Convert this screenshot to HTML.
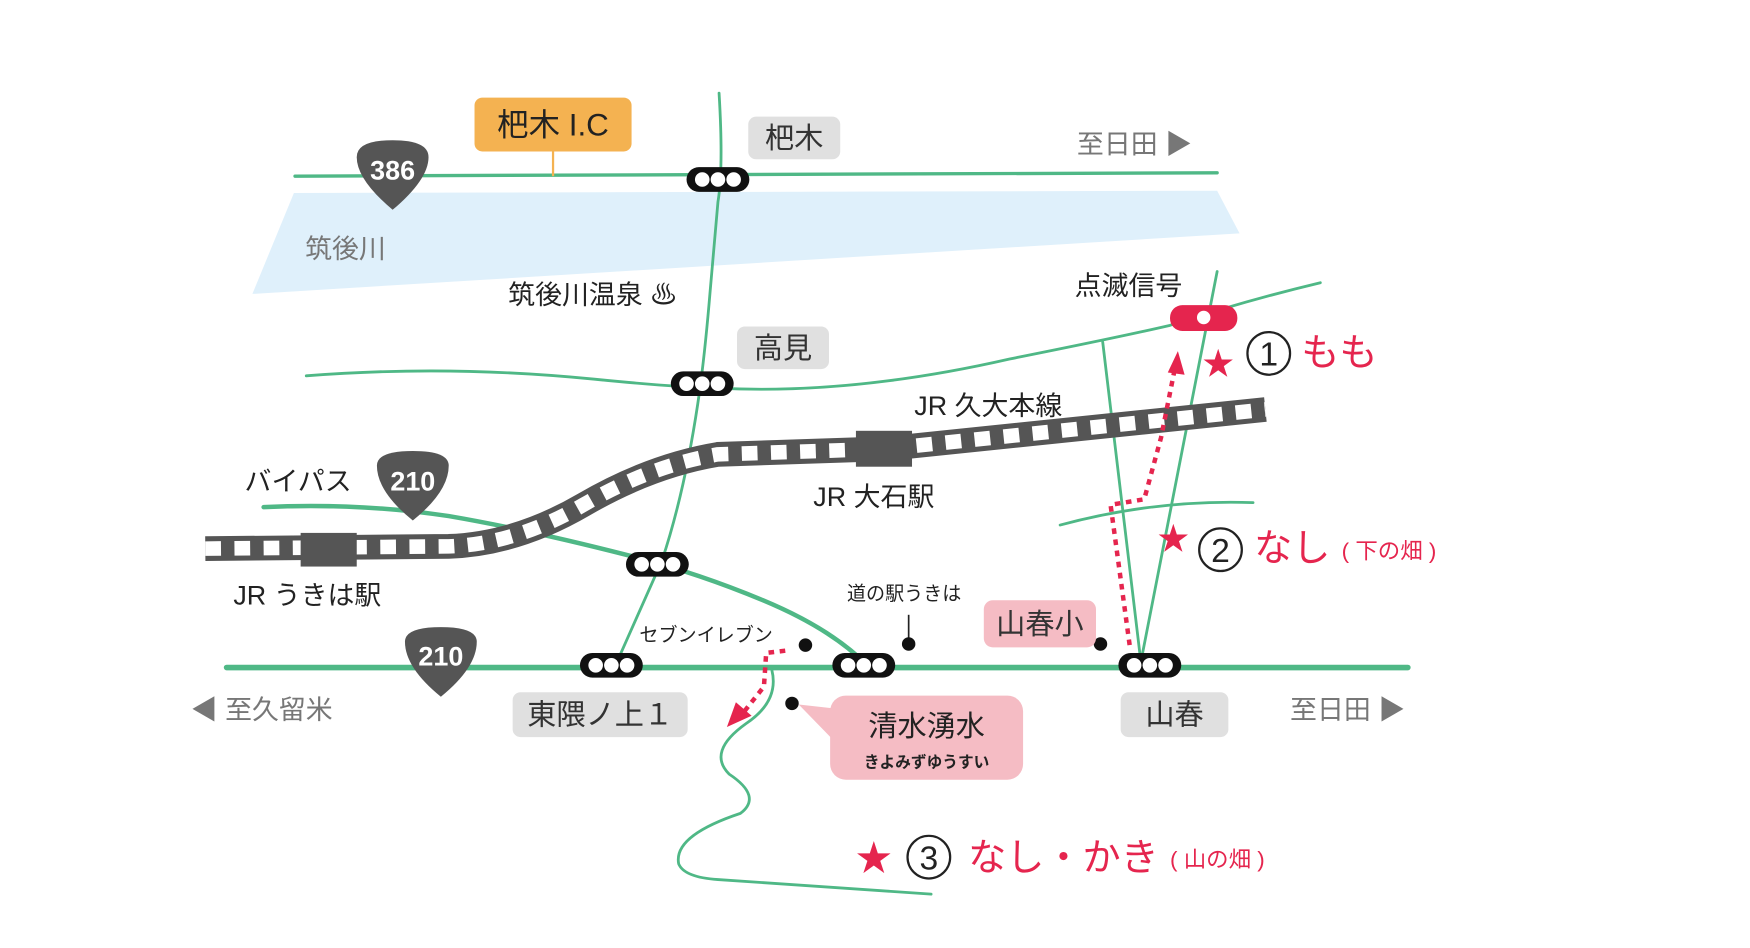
<!DOCTYPE html>
<html><head><meta charset="utf-8"><style>
html,body{margin:0;padding:0;background:#fff;}
svg{display:block;}
text{font-family:"Liberation Sans","Noto Sans CJK JP",sans-serif;}
</style></head><body>
<svg width="1750" height="948" viewBox="0 0 1560 845" preserveAspectRatio="none" xmlns="http://www.w3.org/2000/svg">
<g fill="none" stroke="#4fb886" stroke-linecap="round">
<polygon points="262,172 1085,170 1105,208 225,262" fill="#dff0fb" stroke="none"/>
<line x1="263" y1="157" x2="1085" y2="154" stroke-width="3"/>
<path d="M641,83 Q645,150 640,180 L633,260 Q628,320 622,360 Q610,440 590,500 L550,590" stroke-width="2.5"/>
<path d="M273,335 Q400,325 530,338 Q600,345 640,346 Q760,352 900,320 Q1000,300 1043,290 Q1110,268 1177,252" stroke-width="2.5"/>
<line x1="1085" y1="242" x2="1017" y2="590" stroke-width="2.5"/>
<line x1="983" y1="305" x2="1017" y2="590" stroke-width="2.5"/>
<path d="M945,468 Q1030,445 1117,448" stroke-width="2.5"/>
<path d="M235,452 Q320,448 400,460 Q470,472 560,495 Q620,510 680,535 Q740,560 772,592" stroke-width="4"/>
<line x1="202" y1="595" x2="1255" y2="595" stroke-width="5"/>
<path d="M688,597 Q695,625 665,645 Q630,670 650,690 Q680,710 660,725 Q600,745 605,770 Q610,782 640,784 L830,797" stroke-width="2.5"/>
</g>
<path d="M183,489 L400,487 Q460,485 520,450 Q580,415 640,405 L790,400 L1128,365" fill="none" stroke="#555" stroke-width="22"/>
<path d="M183,489 L400,487 Q460,485 520,450 Q580,415 640,405 L790,400 L1128,365" fill="none" stroke="#fff" stroke-width="13" stroke-dasharray="14 12"/>
<rect x="268" y="475" width="50" height="30" fill="#555"/>
<rect x="763" y="384" width="50" height="32" fill="#555"/>
<g fill="#555">
<path d="M318,140 Q318,125 350,125 Q382,125 382,140 Q382,160 350,187 Q318,160 318,140Z"/>
<path d="M336,415 Q336,402 368,402 Q400,402 400,415 Q400,438 368,464 Q336,438 336,415Z"/>
<path d="M361,572 Q361,559 393,559 Q425,559 425,572 Q425,595 393,621 Q361,595 361,572Z"/>
</g>
<g fill="#fff" font-size="24" text-anchor="middle" font-weight="bold">
<text x="350" y="160">386</text><text x="368" y="437">210</text><text x="393" y="593">210</text>
</g>
<line x1="493" y1="135" x2="493" y2="157" stroke="#f4b251" stroke-width="2"/>
<rect x="423" y="87" width="140" height="48" rx="7" fill="#f4b251"/>
<text x="493" y="121" font-size="28" text-anchor="middle" fill="#222">杷木 I.C</text>
<g fill="#e0e0e0">
<rect x="667" y="104" width="82" height="38" rx="7"/>
<rect x="657" y="291" width="82" height="38" rx="7"/>
<rect x="457" y="617" width="156" height="40" rx="7"/>
<rect x="999" y="617" width="96" height="40" rx="7"/>
</g>
<g font-size="26" fill="#333" text-anchor="middle">
<text x="708" y="132">杷木</text><text x="698" y="319">高見</text>
<text x="535" y="646">東隈ノ上１</text><text x="1047" y="646">山春</text>
</g>
<text x="272" y="230" font-size="24" fill="#777">筑後川</text>
<text x="960" y="137" font-size="24" fill="#777">至日田 ▶</text>
<text x="1150" y="641" font-size="24" fill="#777">至日田 ▶</text>
<text x="170" y="641" font-size="24" fill="#777">◀ 至久留米</text>
<g fill="#222">
<text x="453" y="271" font-size="24">筑後川温泉 ♨</text>
<text x="958" y="263" font-size="24">点滅信号</text>
<text x="815" y="370" font-size="24">JR 久大本線</text>
<text x="725" y="451" font-size="24">JR 大石駅</text>
<text x="208" y="539" font-size="24">JR うきは駅</text>
<text x="218" y="437" font-size="24">バイパス</text>
<text x="570" y="572" font-size="17">セブンイレブン</text>
<text x="755" y="535" font-size="17">道の駅うきは</text>
</g>
<line x1="810" y1="548" x2="810" y2="570" stroke="#222" stroke-width="1.5"/>
<g fill="#111"><circle cx="718" cy="575" r="6"/><circle cx="810" cy="574" r="6"/><circle cx="981" cy="574" r="6"/><circle cx="706" cy="627" r="6"/></g>
<g>
<g transform="translate(640,160)"><rect x="-28" y="-11" width="56" height="22" rx="11" fill="#111"/><g fill="#fff"><circle cx="-14" cy="0" r="6.5"/><circle cx="0" cy="0" r="6.5"/><circle cx="14" cy="0" r="6.5"/></g></g>
<g transform="translate(626,342)"><rect x="-28" y="-11" width="56" height="22" rx="11" fill="#111"/><g fill="#fff"><circle cx="-14" cy="0" r="6.5"/><circle cx="0" cy="0" r="6.5"/><circle cx="14" cy="0" r="6.5"/></g></g>
<g transform="translate(586,503)"><rect x="-28" y="-11" width="56" height="22" rx="11" fill="#111"/><g fill="#fff"><circle cx="-14" cy="0" r="6.5"/><circle cx="0" cy="0" r="6.5"/><circle cx="14" cy="0" r="6.5"/></g></g>
<g transform="translate(545,593)"><rect x="-28" y="-11" width="56" height="22" rx="11" fill="#111"/><g fill="#fff"><circle cx="-14" cy="0" r="6.5"/><circle cx="0" cy="0" r="6.5"/><circle cx="14" cy="0" r="6.5"/></g></g>
<g transform="translate(770,593)"><rect x="-28" y="-11" width="56" height="22" rx="11" fill="#111"/><g fill="#fff"><circle cx="-14" cy="0" r="6.5"/><circle cx="0" cy="0" r="6.5"/><circle cx="14" cy="0" r="6.5"/></g></g>
<g transform="translate(1025,593)"><rect x="-28" y="-11" width="56" height="22" rx="11" fill="#111"/><g fill="#fff"><circle cx="-14" cy="0" r="6.5"/><circle cx="0" cy="0" r="6.5"/><circle cx="14" cy="0" r="6.5"/></g></g>
</g>
<rect x="1043" y="272" width="60" height="23" rx="11" fill="#e5254e"/>
<circle cx="1073" cy="283" r="6" fill="#fff"/>
<rect x="877" y="535" width="100" height="42" rx="8" fill="#f5bcc4"/>
<text x="927" y="565" font-size="26" fill="#333" text-anchor="middle">山春小</text>
<path d="M712,628 L748,632 L748,665Z" fill="#f5bcc4"/>
<rect x="740" y="620" width="172" height="75" rx="14" fill="#f5bcc4"/>
<text x="826" y="656" font-size="26" fill="#222" text-anchor="middle">清水湧水</text>
<text x="826" y="684" font-size="14" fill="#222" text-anchor="middle" font-weight="bold">きよみずゆうすい</text>
<g fill="none" stroke="#e5254e" stroke-width="4" stroke-dasharray="5 5">
<path d="M700,580 L683,582 L681,612 L662,636"/>
<path d="M1007,575 L990,450 L1020,445 L1035,390 L1047,330"/>
</g>
<path d="M648,648 L656,626 L670,638Z" fill="#e5254e"/>
<path d="M1050,313 L1041,332 L1056,334Z" fill="#e5254e"/>
<g fill="#e5254e">
<text x="1072" y="334" font-size="28">★</text>
<text x="1160" y="326" font-size="34">もも</text>
<text x="1032" y="490" font-size="28">★</text>
<text x="1118" y="500" font-size="34">なし</text>
<text x="1196" y="498" font-size="20">( 下の畑 )</text>
<text x="763" y="776" font-size="32">★</text>
<text x="863" y="776" font-size="34">なし・かき</text>
<text x="1043" y="773" font-size="20">( 山の畑 )</text>
</g>
<g fill="none" stroke="#222" stroke-width="2">
<circle cx="1131" cy="315" r="19"/><circle cx="1088" cy="490" r="19"/><circle cx="828" cy="764" r="19"/>
</g>
<g fill="#222" font-size="30" text-anchor="middle">
<text x="1131" y="326">1</text><text x="1088" y="501">2</text><text x="828" y="775">3</text>
</g>
</svg>
</body></html>
